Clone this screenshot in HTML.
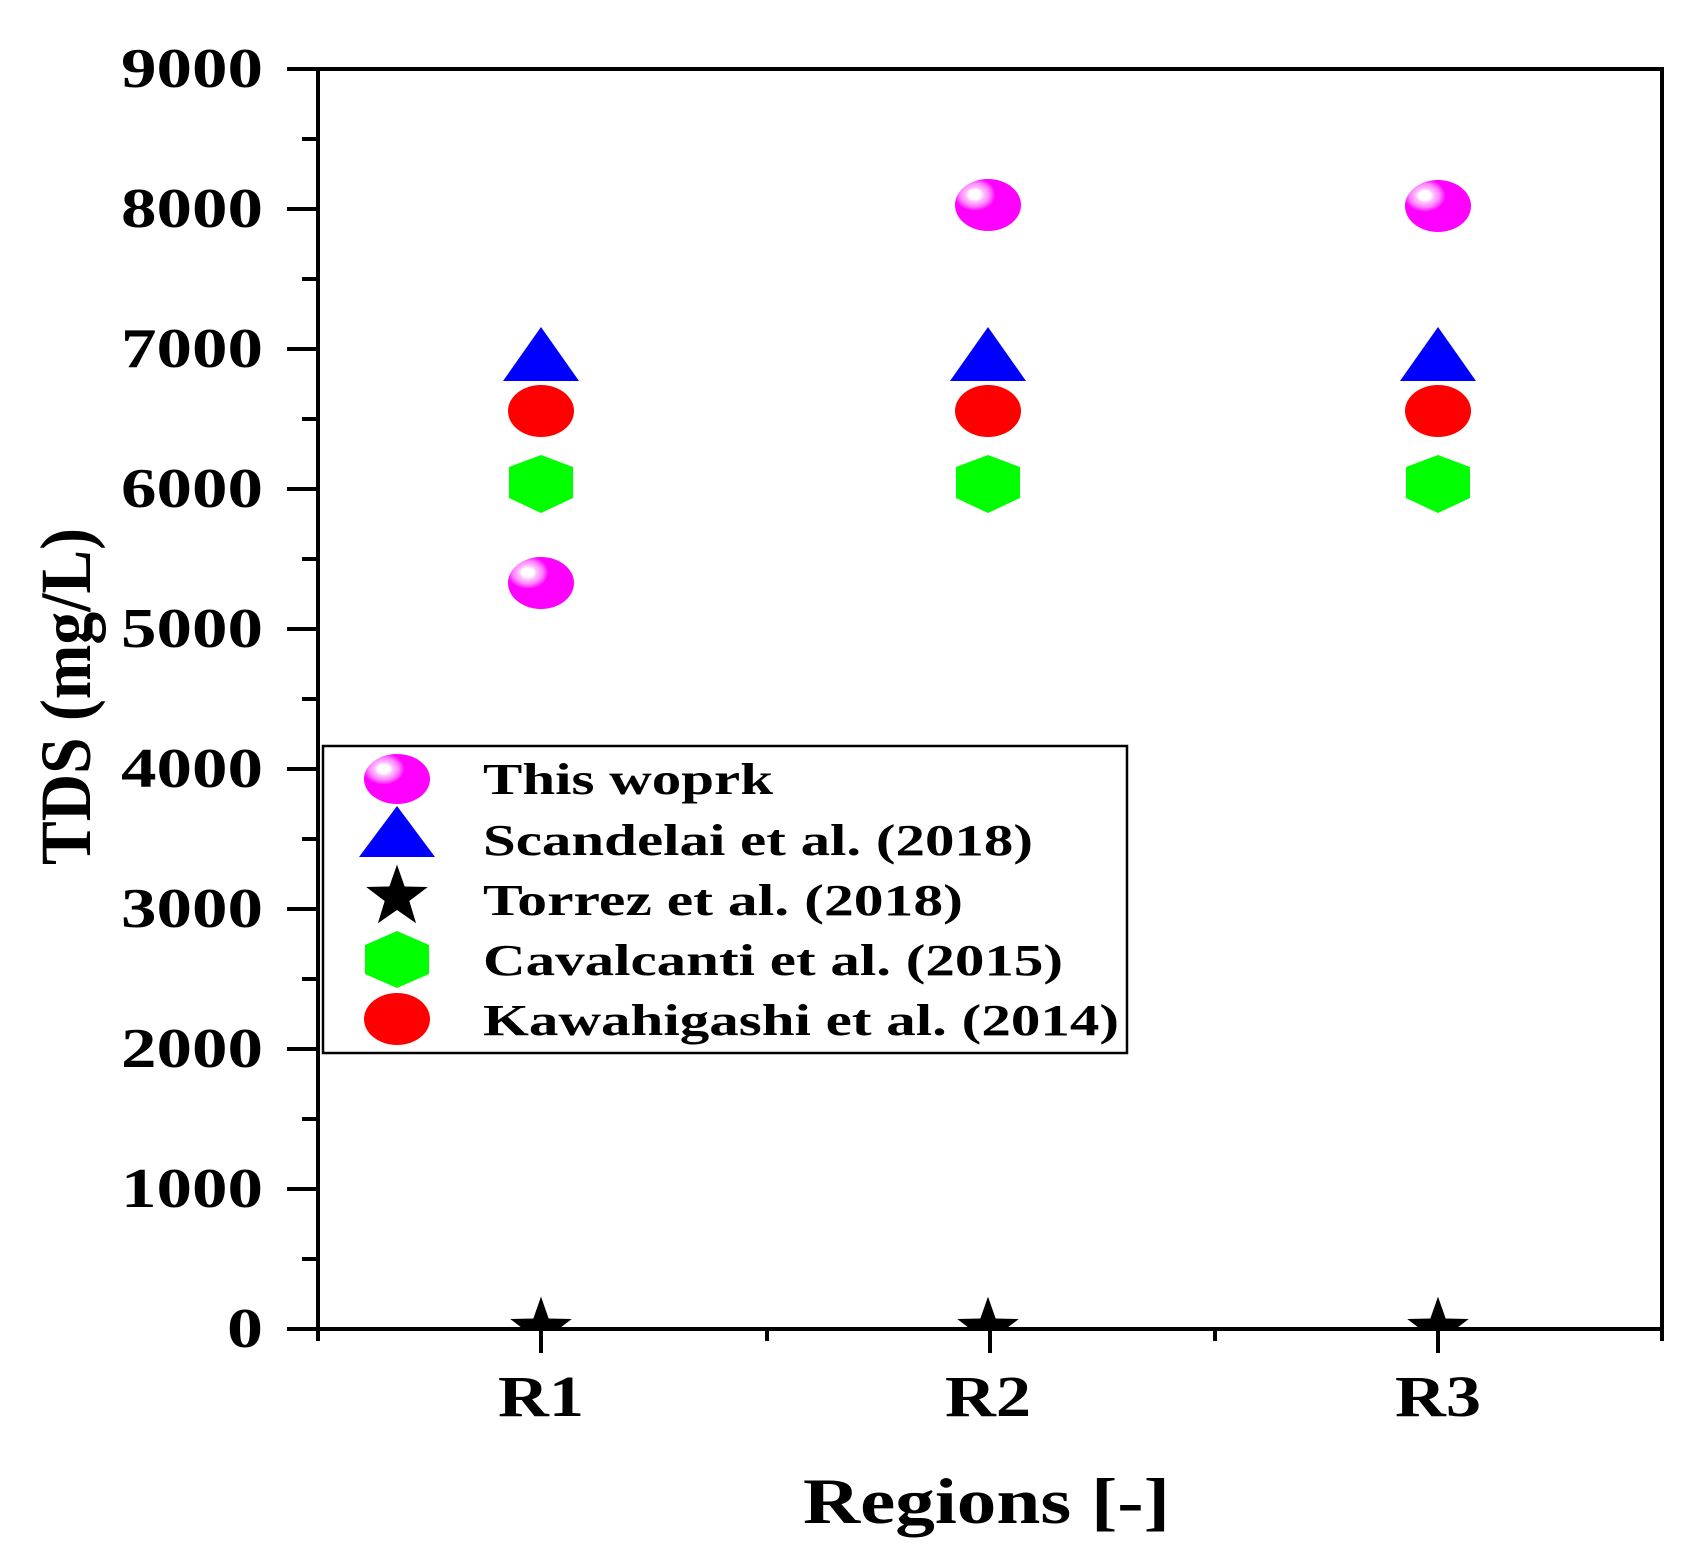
<!DOCTYPE html>
<html><head><meta charset="utf-8"><style>html,body{margin:0;padding:0;background:#fff}svg{display:block}text{font-family:"Liberation Serif","Times New Roman",serif;font-weight:bold}</style></head>
<body>
<svg width="1694" height="1559" viewBox="0 0 1694 1559" xmlns="http://www.w3.org/2000/svg">
<defs>
<radialGradient id="mg" cx="0.3" cy="0.3" r="0.75">
<stop offset="0" stop-color="#ffffff"/><stop offset="0.12" stop-color="#ffffff"/>
<stop offset="0.18" stop-color="#ffc0ff"/><stop offset="0.3" stop-color="#ff80ff"/>
<stop offset="0.42" stop-color="#ff00ff"/><stop offset="1" stop-color="#ff00ff"/>
</radialGradient>
<clipPath id="pc"><rect x="318" y="69" width="1344" height="1259"/></clipPath>
<symbol id="star" viewBox="-40 -40 80 80" overflow="visible">
<polygon points="0,-36 8.5,-11.7 34.2,-11.1 13.7,4.5 21.2,29.1 0,14.5 -21.2,29.1 -13.7,4.5 -34.2,-11.1 -8.5,-11.7" fill="#000"/>
</symbol>
</defs>
<rect x="318" y="69" width="1344" height="1260" fill="none" stroke="#000" stroke-width="4"/>
<g stroke="#000" stroke-width="4">
<line x1="287" y1="69" x2="318" y2="69"/><line x1="302" y1="139" x2="318" y2="139"/>
<line x1="287" y1="209" x2="318" y2="209"/><line x1="302" y1="279" x2="318" y2="279"/>
<line x1="287" y1="349" x2="318" y2="349"/><line x1="302" y1="419" x2="318" y2="419"/>
<line x1="287" y1="489" x2="318" y2="489"/><line x1="302" y1="559" x2="318" y2="559"/>
<line x1="287" y1="629" x2="318" y2="629"/><line x1="302" y1="699" x2="318" y2="699"/>
<line x1="287" y1="769" x2="318" y2="769"/><line x1="302" y1="839" x2="318" y2="839"/>
<line x1="287" y1="909" x2="318" y2="909"/><line x1="302" y1="979" x2="318" y2="979"/>
<line x1="287" y1="1049" x2="318" y2="1049"/><line x1="302" y1="1119" x2="318" y2="1119"/>
<line x1="287" y1="1189" x2="318" y2="1189"/><line x1="302" y1="1259" x2="318" y2="1259"/>
<line x1="287" y1="1329" x2="318" y2="1329"/>
<line x1="318" y1="1329" x2="318" y2="1341"/>
<line x1="541" y1="1329" x2="541" y2="1353"/>
<line x1="767" y1="1329" x2="767" y2="1341"/>
<line x1="990" y1="1329" x2="990" y2="1353"/>
<line x1="1215" y1="1329" x2="1215" y2="1341"/>
<line x1="1438" y1="1329" x2="1438" y2="1353"/>
<line x1="1662" y1="1329" x2="1662" y2="1341"/>
</g>
<g font-size="56" text-anchor="end">
<text x="263" y="87" textLength="142" lengthAdjust="spacingAndGlyphs">9000</text>
<text x="263" y="227" textLength="142" lengthAdjust="spacingAndGlyphs">8000</text>
<text x="263" y="367" textLength="142" lengthAdjust="spacingAndGlyphs">7000</text>
<text x="263" y="507" textLength="142" lengthAdjust="spacingAndGlyphs">6000</text>
<text x="263" y="647" textLength="142" lengthAdjust="spacingAndGlyphs">5000</text>
<text x="263" y="787" textLength="142" lengthAdjust="spacingAndGlyphs">4000</text>
<text x="263" y="927" textLength="142" lengthAdjust="spacingAndGlyphs">3000</text>
<text x="263" y="1067" textLength="142" lengthAdjust="spacingAndGlyphs">2000</text>
<text x="263" y="1207" textLength="142" lengthAdjust="spacingAndGlyphs">1000</text>
<text x="263" y="1347" textLength="36" lengthAdjust="spacingAndGlyphs">0</text>
</g>
<g font-size="58" text-anchor="middle">
<text x="541" y="1416" textLength="86" lengthAdjust="spacingAndGlyphs">R1</text>
<text x="988" y="1416" textLength="86" lengthAdjust="spacingAndGlyphs">R2</text>
<text x="1438" y="1416" textLength="86" lengthAdjust="spacingAndGlyphs">R3</text>
</g>
<text x="803" y="1523" font-size="65" textLength="367" lengthAdjust="spacingAndGlyphs">Regions [-]</text>
<text transform="translate(90,865) rotate(-90)" font-size="72" textLength="337" lengthAdjust="spacingAndGlyphs">TDS (mg/L)</text>
<g clip-path="url(#pc)">
<g id="col1">
<polygon points="541,327 579,381 503,381" fill="#0000ff"/>
<ellipse cx="541" cy="411" rx="33" ry="26" fill="#ff0000"/>
<polygon points="541,455 573,467 573,498 541,513 509,498 509,467" fill="#00ff00"/>
<use href="#star" x="505" y="1293" width="72" height="72"/>
</g>
<ellipse cx="541" cy="583" rx="33" ry="26" fill="url(#mg)"/>
<use href="#col1" x="447"/>
<use href="#col1" x="897"/>
<ellipse cx="988" cy="205" rx="33" ry="26" fill="url(#mg)"/>
<ellipse cx="1438" cy="206" rx="33" ry="26" fill="url(#mg)"/>
</g>
<rect x="323" y="746" width="804" height="307" fill="#fff" stroke="#000" stroke-width="2.5"/>
<ellipse cx="397" cy="779" rx="33" ry="25" fill="url(#mg)"/>
<polygon points="397,806 435,857 359,857" fill="#0000ff"/>
<use href="#star" x="361" y="861" width="72" height="72"/>
<polygon points="397,931 429,945 429,974 397,988 365,974 365,945" fill="#00ff00"/>
<ellipse cx="397" cy="1019" rx="33" ry="26" fill="#ff0000"/>
<g font-size="44">
<text x="483" y="794" textLength="290" lengthAdjust="spacingAndGlyphs">This woprk</text>
<text x="483" y="855" textLength="550" lengthAdjust="spacingAndGlyphs">Scandelai et al. (2018)</text>
<text x="483" y="915" textLength="480" lengthAdjust="spacingAndGlyphs">Torrez et al. (2018)</text>
<text x="483" y="975" textLength="580" lengthAdjust="spacingAndGlyphs">Cavalcanti et al. (2015)</text>
<text x="483" y="1035" textLength="636" lengthAdjust="spacingAndGlyphs">Kawahigashi et al. (2014)</text>
</g>
</svg>
</body></html>
